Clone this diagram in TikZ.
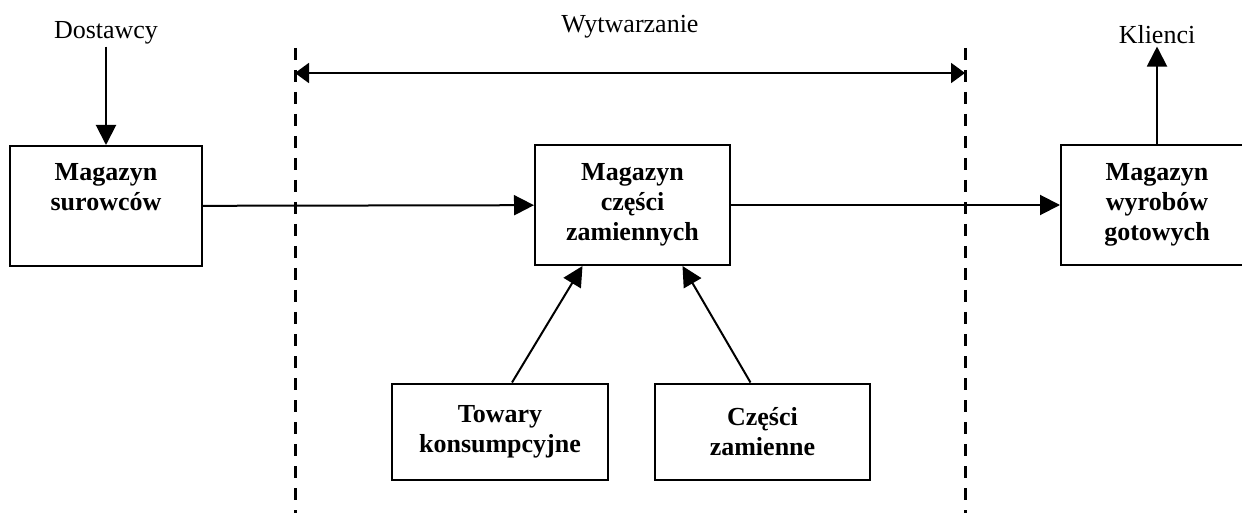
\documentclass[tikz,border=0pt]{standalone}
\usepackage{fontspec}
\setmainfont{Liberation Serif}
\usepackage{tikz}
\usetikzlibrary{arrows.meta}
\usetikzlibrary{positioning}

\begin{document}
\begin{tikzpicture}
			[x=0.5pt,y=-0.5pt,every node/.style={inner sep=1pt,font=\fontsize{13}{15}\selectfont},
			 mag/.style={draw, line width=1pt, align=center, inner sep=0pt, font=\fontsize{13}{15}\selectfont\bfseries},
			 strzalka/.style={line width=1pt, -{Triangle[length=10pt,width=10pt]}},
			 granica/.style={line width=1.5pt, dash pattern=on 6pt off 5pt}]
			\clip (0,0) rectangle (1242,513);
			% magazyny
			\node (sur) [mag, minimum width=96pt, minimum height=60pt] at (106, 206) {Magazyn\\surowców\\\strut};
			\node (czm) [mag, minimum width=97.5pt, minimum height=60pt] at (632.5, 205) {Magazyn\\części\\zamiennych};
			\node (wyr) [mag, minimum width=96pt, minimum height=60pt] at (1157, 205) {Magazyn\\wyrobów\\gotowych};
			\node (tow) [mag, minimum width=108pt, minimum height=48pt] at (500, 431.5) {Towary\\konsumpcyjne};
			\node (czz) [mag, minimum width=107.5pt, minimum height=48pt] at (762.5, 431.5) {Części\\zamienne};
			% opisy
			\node (dos) at (106, 33) {Dostawcy};
			\node (kli) at (1157, 35) {Klienci};
			\node (wyt) at (630, 27) {Wytwarzanie};
			% granice wytwarzania
			\coordinate (lg) at (295, 48);
			\coordinate (ld) at (295, 513);
			\coordinate (pg) at (965, 48);
			\coordinate (pd) at (965, 513);
			\coordinate (wl) at (295, 73);
			\coordinate (wp) at (965, 73);
			\draw [granica] (lg) -- (ld);
			\draw [granica] (pg) -- (pd);
			\draw [line width=1pt, {Triangle[length=7pt,width=10pt]}-{Triangle[length=7pt,width=10pt]}] (wl) -- (wp);
			% przeplyw
			\draw [strzalka] (dos) -- (sur);
			\draw [strzalka] (sur) -- (czm);
			\draw [strzalka] (czm) -- (wyr);
			\draw [strzalka] (wyr) -- (kli);
			\draw [strzalka] ([xshift=6pt]tow.north) -- ([xshift=-25pt]czm.south);
			\draw [strzalka] ([xshift=-6pt]czz.north) -- ([xshift=25pt]czm.south);
		\end{tikzpicture}
\end{document}
